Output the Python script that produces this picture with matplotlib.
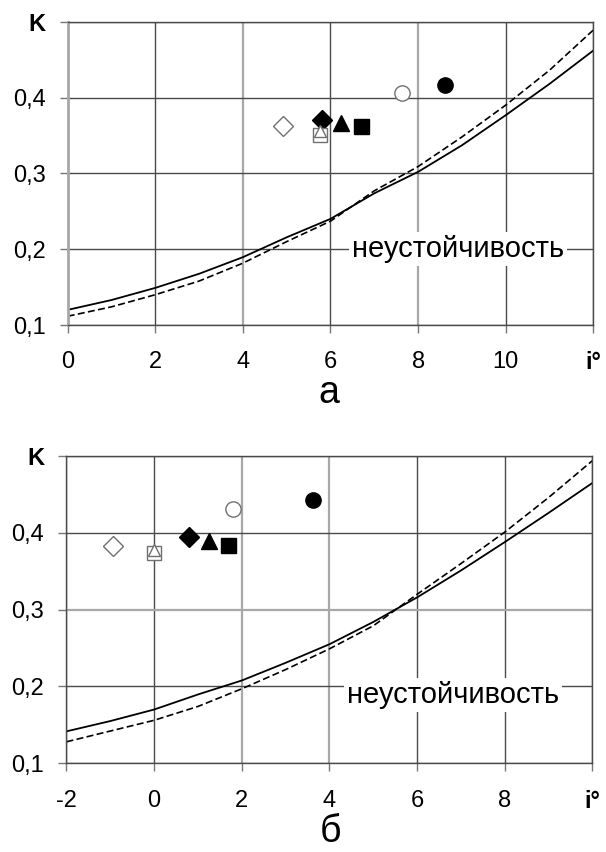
import matplotlib
matplotlib.use("Agg")
import matplotlib.pyplot as plt

plt.rcParams['font.family'] = ['Liberation Sans', 'DejaVu Sans']

# --- данные (панель а) ---
x_a = [0, 1, 2, 3, 4, 5, 6, 7, 8, 9, 10, 11, 12]
solid_a = [0.120, 0.133, 0.149, 0.1676, 0.1895, 0.2157, 0.240, 0.2737, 0.302, 0.337, 0.3767, 0.418, 0.462]
dash_a = [0.1116, 0.124, 0.140, 0.158, 0.1816, 0.210, 0.237, 0.277, 0.309, 0.348, 0.390, 0.436, 0.489]
pts_a_x = [4.91, 5.80, 5.76, 5.76, 6.24, 6.69, 7.63, 8.61]
pts_a_y = [0.362, 0.371, 0.351, 0.356, 0.366, 0.362, 0.406, 0.417]
xticks_a = [0, 2, 4, 6, 8, 10, 12]
xlabels_a = ['0', '2', '4', '6', '8', '10', 'i°']

# --- данные (панель б) ---
x_b = [-2, -1, 0, 1, 2, 3, 4, 5, 6, 7, 8, 9, 10]
solid_b = [0.1416, 0.155, 0.170, 0.1896, 0.2078, 0.2308, 0.255, 0.284, 0.316, 0.351, 0.388, 0.426, 0.465]
dash_b = [0.128, 0.142, 0.156, 0.174, 0.197, 0.222, 0.249, 0.279, 0.320, 0.360, 0.401, 0.446, 0.494]
pts_b_x = [-0.95, 0.79, 0.0, 0.0, 1.25, 1.69, 1.80, 3.63]
pts_b_y = [0.383, 0.394, 0.374, 0.378, 0.389, 0.384, 0.431, 0.443]
xticks_b = [-2, 0, 2, 4, 6, 8, 10]
xlabels_b = ['-2', '0', '2', '4', '6', '8', 'i°']

yticks = [0.1, 0.2, 0.3, 0.4, 0.5]
ylabels = ['0,1', '0,2', '0,3', '0,4', 'K']

# стиль маркеров: (marker, size, filled)
mstyles = [('D', 10.5, False), ('D', 10.5, True), ('s', 10.5, False), ('^', 8, False),
           ('^', 11, True), ('s', 10.8, True), ('o', 11, False), ('o', 11, True)]

fig = plt.figure(figsize=(6.06, 8.52), dpi=100)
ax1 = fig.add_axes([0.1117, 0.6185, 0.8673, 0.356])
ax2 = fig.add_axes([0.1097, 0.1041, 0.868, 0.3607])

DARK = '#4a4a4a'
LIGHT = '#a8a8a8'


def draw(ax, x, s, d, px, py, xt, xl, xlim, light_v, light_h, text_xy):
    ax.set_xlim(*xlim)
    ax.set_ylim(0.1, 0.5)
    ax.set_xticks(xt)
    ax.set_xticklabels(xl)
    ax.set_yticks(yticks)
    ax.set_yticklabels(ylabels)
    ax.get_xticklabels()[-1].set_fontweight('bold')
    ax.get_xticklabels()[-1].set_fontsize(20)
    ax.get_yticklabels()[-1].set_fontweight('bold')
    ax.grid(True, color=DARK, lw=1)
    for i in light_v:
        ax.xaxis.get_gridlines()[i].set_color(LIGHT)
        ax.xaxis.get_gridlines()[i].set_linewidth(1.6)
    for i in light_h:
        ax.yaxis.get_gridlines()[i].set_color(LIGHT)
        ax.yaxis.get_gridlines()[i].set_linewidth(1.6)
    ax.set_axisbelow(True)
    for sp in ax.spines.values():
        sp.set_color(DARK)
        sp.set_linewidth(1)
    ax.tick_params(direction='out', length=6, width=1, color='#777777', labelsize=17)
    ax.tick_params(axis='x', pad=13)
    ax.tick_params(axis='y', pad=10)

    ax.plot(x, s, color='black', lw=1.3)
    ax.plot(x, d, color='black', lw=1.2, dashes=(4.2, 2))

    for xi, yi, (m, ms, filled) in zip(px, py, mstyles):
        if filled:
            ax.plot(xi, yi, marker=m, ms=ms, color='black', mec='black', ls='none', clip_on=False)
        else:
            ax.plot(xi, yi, marker=m, ms=ms, mfc='white', mec='#707070', mew=1, ls='none', clip_on=False)

    ax.text(text_xy[0], text_xy[1], 'неустойчивость', fontsize=21, ha='center', va='center',
            bbox=dict(facecolor='white', edgecolor='none', pad=2))


draw(ax1, x_a, solid_a, dash_a, pts_a_x, pts_a_y, xticks_a, xlabels_a, (0, 12),
     [0, 2, 4], [], (8.91, 0.2))
ax1.spines['left'].set_color(LIGHT)
ax1.spines['left'].set_linewidth(2)

draw(ax2, x_b, solid_b, dash_b, pts_b_x, pts_b_y, xticks_b, xlabels_b, (-2, 10),
     [2, 3], [2], (6.82, 0.189))

fig.text(0.542, 0.527, 'а', fontsize=27, ha='center', va='baseline')
fig.text(0.545, 0.0117, 'б', fontsize=27, ha='center', va='baseline')

fig.savefig('out.png', dpi=100, facecolor='white')
